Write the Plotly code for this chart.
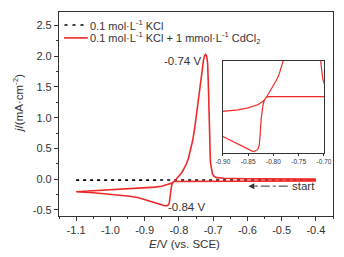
import plotly.graph_objects as go

# ---- data ----
E_kcl = [-1.10, -1.00, -0.90, -0.80, -0.70, -0.60, -0.50, -0.40]
j_kcl = [-0.016, -0.016, -0.015, -0.015, -0.015, -0.014, -0.014, -0.014]

E_fwd = [-0.40, -0.45, -0.50, -0.55, -0.60, -0.65, -0.70, -0.75, -0.78, -0.80, -0.81,
         -0.814, -0.816, -0.818, -0.820, -0.822, -0.824, -0.826, -0.828, -0.831, -0.835,
         -0.838, -0.842, -0.846, -0.850, -0.860, -0.870, -0.880, -0.900, -0.920, -0.950,
         -1.000, -1.050, -1.100]
j_fwd = [-0.028, -0.029, -0.029, -0.030, -0.030, -0.030, -0.030, -0.030, -0.030, -0.031, -0.033,
         -0.038, -0.045, -0.060, -0.085, -0.130, -0.190, -0.300, -0.390, -0.420, -0.432,
         -0.435, -0.432, -0.425, -0.418, -0.400, -0.380, -0.362, -0.325, -0.300, -0.275,
         -0.245, -0.222, -0.205]

E_rev = [-1.10, -1.05, -1.00, -0.95, -0.90, -0.87, -0.85, -0.83, -0.82, -0.814, -0.808,
         -0.803, -0.798, -0.793, -0.788, -0.783, -0.778, -0.772, -0.766, -0.760, -0.754,
         -0.748, -0.742, -0.737, -0.732, -0.728, -0.725, -0.722, -0.719, -0.716, -0.714,
         -0.712, -0.710, -0.708, -0.705, -0.702, -0.698, -0.690, -0.670, -0.650, -0.600,
         -0.550, -0.500, -0.450, -0.400]
j_rev = [-0.205, -0.190, -0.172, -0.155, -0.140, -0.130, -0.115, -0.090, -0.065, -0.037, 0.000,
         0.030, 0.060, 0.095, 0.140, 0.190, 0.250, 0.340, 0.470, 0.620, 0.820,
         1.080, 1.380, 1.600, 1.800, 1.940, 2.010, 2.030, 2.000, 1.880, 1.550,
         1.000, 0.500, 0.280, 0.180, 0.090, 0.050, 0.025, 0.015, 0.010, 0.006,
         0.004, 0.002, 0.001, 0.000]

x_ticks = [-1.1, -1.0, -0.9, -0.8, -0.7, -0.6, -0.5, -0.4]
x_ticktext = ["-1.1", "-1.0", "-0.9", "-0.8", "-0.7", "-0.6", "-0.5", "-0.4"]
y_ticks = [-0.5, 0.0, 0.5, 1.0, 1.5, 2.0, 2.5]
y_ticktext = ["-0.5", "0.0", "0.5", "1.0", "1.5", "2.0", "2.5"]
inset_ticks = [-0.90, -0.85, -0.80, -0.75, -0.70]
inset_ticktext = ["-0.90", "-0.85", "-0.80", "-0.75", "-0.70"]

label_kcl = "0.1 mol·L<sup>-1</sup> KCl"
label_cd = "0.1 mol·L<sup>-1</sup> KCl + 1 mmol·L<sup>-1</sup> CdCl<sub>2</sub>"

RED = "#f02828"
AX = "#333333"
FONT = "Liberation Sans, Arial, sans-serif"

fig = go.Figure()
fig.add_trace(go.Scatter(x=E_kcl, y=j_kcl, mode="lines", name=label_kcl, showlegend=False,
                         line=dict(color="black", width=1.6, dash="3px,4px")))
fig.add_trace(go.Scatter(x=E_fwd + E_rev, y=j_fwd + j_rev, mode="lines", name=label_cd,
                         showlegend=False, line=dict(color=RED, width=1.6)))
# inset
fig.add_trace(go.Scatter(x=E_fwd + E_rev, y=j_fwd + j_rev, mode="lines", showlegend=False,
                         line=dict(color=RED, width=1.2), xaxis="x2", yaxis="y2"))

# the page body keeps its default 8px margin, so the figure is sized to fit the window
fig.update_layout(
    width=336, height=249,
    margin=dict(l=51, r=9, t=3, b=41),
    paper_bgcolor="white", plot_bgcolor="white",
    font=dict(family=FONT, size=11, color=AX),
    showlegend=False,
    xaxis=dict(range=[-1.15, -0.35], tickmode="array", tickvals=x_ticks, ticktext=x_ticktext,
               ticks="outside", ticklen=4, tickcolor=AX, showline=True, linecolor=AX,
               linewidth=1.2, mirror=True, showgrid=False, zeroline=False,
               minor=dict(tickmode="linear", tick0=0, dtick=0.05, ticklen=2, tickcolor=AX,
                          showgrid=False),
               tickfont=dict(size=11, color=AX)),
    yaxis=dict(range=[-0.6, 2.72], tickmode="array", tickvals=y_ticks, ticktext=y_ticktext,
               ticks="outside", ticklen=4, tickcolor=AX, showline=True, linecolor=AX,
               linewidth=1.2, mirror=True, showgrid=False, zeroline=False,
               minor=dict(tickmode="linear", tick0=0, dtick=0.25, ticklen=2, tickcolor=AX,
                          showgrid=False),
               tickfont=dict(size=11, color=AX)),
    xaxis2=dict(domain=[0.598, 0.967], anchor="y2", range=[-0.90, -0.70],
                tickmode="array", tickvals=inset_ticks, ticktext=inset_ticktext,
                ticks="outside", ticklen=2, tickcolor=AX, showline=True, linecolor=AX,
                linewidth=1, mirror=True, showgrid=False, zeroline=False,
                tickfont=dict(size=6.5, color=AX)),
    yaxis2=dict(domain=[0.307, 0.761], anchor="x2", range=[-0.449, 0.231],
                showticklabels=False, ticks="", showline=True, linecolor=AX,
                linewidth=1, mirror=True, showgrid=False, zeroline=False),
)

# legend (drawn by hand to match the compact sample lengths)
fig.add_shape(type="line", xref="paper", yref="paper", x0=0.020, x1=0.091, y0=0.9366, y1=0.9366,
              line=dict(color="black", width=1.6, dash="3px,5px"))
fig.add_shape(type="line", xref="paper", yref="paper", x0=0.018, x1=0.105, y0=0.873, y1=0.873,
              line=dict(color=RED, width=1.6))
fig.add_annotation(xref="paper", yref="paper", x=0.107, y=0.9366, text=label_kcl,
                   showarrow=False, xanchor="left", yanchor="middle",
                   font=dict(size=11, color=AX))
fig.add_annotation(xref="paper", yref="paper", x=0.107, y=0.873, text=label_cd,
                   showarrow=False, xanchor="left", yanchor="middle",
                   font=dict(size=11, color=AX))

fig.add_annotation(x=-0.788, y=1.92, text="-0.74 V", showarrow=False,
                   font=dict(size=11.5, color=AX), xanchor="center", yanchor="middle")
fig.add_annotation(x=-0.779, y=-0.455, text="-0.84 V", showarrow=False,
                   font=dict(size=11.5, color=AX), xanchor="center", yanchor="middle")
fig.add_annotation(x=-0.476, y=-0.114, text="start", showarrow=False,
                   font=dict(size=11.5, color=AX), xanchor="left", yanchor="middle")
# dash-dot arrow
fig.add_shape(type="line", x0=-0.482, x1=-0.588, y0=-0.114, y1=-0.114,
              line=dict(color=AX, width=1, dash="dashdot"))
fig.add_annotation(x=-0.597, y=-0.114, ax=-0.585, ay=-0.114, axref="x", ayref="y",
                   text="", showarrow=True, arrowhead=2, arrowsize=1.2, arrowwidth=1,
                   arrowcolor=AX)
# axis titles
fig.add_annotation(xref="paper", yref="paper", x=0.457, y=-0.137, text="<i>E</i>/V (vs. SCE)",
                   showarrow=False, font=dict(size=11.5, color=AX), xanchor="center",
                   yanchor="middle")
fig.add_annotation(xref="paper", yref="paper", x=-0.152, y=0.551,
                   text="<i>j</i>/(mA·cm<sup>-2</sup>)", textangle=-90,
                   showarrow=False, font=dict(size=11.5, color=AX), xanchor="center",
                   yanchor="middle")

fig.write_html("out.html")
